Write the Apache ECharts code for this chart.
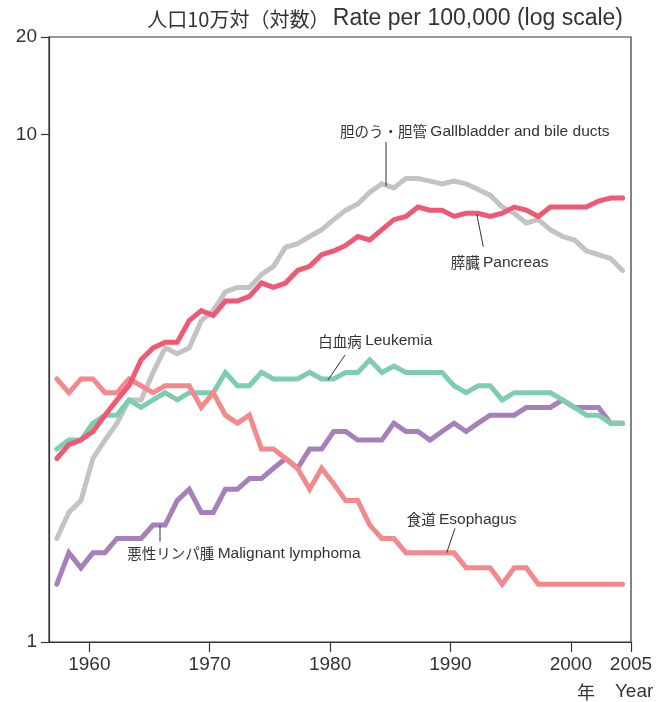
<!DOCTYPE html>
<html><head><meta charset="utf-8">
<script src="https://cdn.jsdelivr.net/npm/echarts@6/dist/echarts.min.js"></script>
<style>html,body{margin:0;padding:0;background:#fff}#c{width:668px;height:702px}</style>
</head><body><div id="c"></div>
<script>
const years = [1957,1958,1959,1960,1961,1962,1963,1964,1965,1966,
  1967,1968,1969,1970,1971,1972,1973,1974,1975,1976,
  1977,1978,1979,1980,1981,1982,1983,1984,1985,1986,
  1987,1988,1989,1990,1991,1992,1993,1994,1995,1996,
  1997,1998,1999,2000,2001,2002,2003,2004];
const gallbladder = [1.6,1.8,1.9,2.3,2.5,2.7,3.0,3.0,3.4,3.8,
  3.7,3.8,4.3,4.5,4.9,5.0,5.0,5.3,5.5,6.0,
  6.1,6.3,6.5,6.8,7.1,7.3,7.7,8.0,7.85,8.2,
  8.2,8.1,8.0,8.1,8.0,7.8,7.6,7.2,7.0,6.7,
  6.8,6.5,6.3,6.2,5.9,5.8,5.7,5.4];
const pancreas = [2.3,2.45,2.5,2.6,2.8,3.0,3.2,3.6,3.8,3.9,
  3.9,4.3,4.5,4.4,4.7,4.7,4.8,5.1,5.0,5.1,
  5.4,5.5,5.8,5.9,6.05,6.3,6.2,6.5,6.8,6.9,
  7.2,7.1,7.1,6.9,7.0,7.0,6.9,7.0,7.2,7.1,
  6.9,7.2,7.2,7.2,7.2,7.4,7.5,7.5];
const leukemia = [2.4,2.5,2.5,2.7,2.8,2.8,3.0,2.9,3.0,3.1,
  3.0,3.1,3.1,3.1,3.4,3.2,3.2,3.4,3.3,3.3,
  3.3,3.4,3.3,3.3,3.4,3.4,3.6,3.4,3.5,3.4,
  3.4,3.4,3.4,3.2,3.1,3.2,3.2,3.0,3.1,3.1,
  3.1,3.1,3.0,2.9,2.8,2.8,2.7,2.7];
const lymphoma = [1.3,1.5,1.4,1.5,1.5,1.6,1.6,1.6,1.7,1.7,
  1.9,2.0,1.8,1.8,2.0,2.0,2.1,2.1,2.2,2.3,
  2.2,2.4,2.4,2.6,2.6,2.5,2.5,2.5,2.7,2.6,
  2.6,2.5,2.6,2.7,2.6,2.7,2.8,2.8,2.8,2.9,
  2.9,2.9,3.0,2.9,2.9,2.9,2.7,2.7];
const esophagus = [3.3,3.1,3.3,3.3,3.1,3.1,3.3,3.2,3.1,3.2,
  3.2,3.2,2.9,3.1,2.8,2.7,2.8,2.4,2.4,2.3,
  2.2,2.0,2.2,2.05,1.9,1.9,1.7,1.6,1.6,1.5,
  1.5,1.5,1.5,1.5,1.4,1.4,1.4,1.3,1.4,1.4,
  1.3,1.3,1.3,1.3,1.3,1.3,1.3,1.3];
const xTicks = [1960,1970,1980,1990,2000,2005];
const yTickLabels = ['1','10','20'];
const seriesNames = ['胆のう・胆管 Gallbladder and bile ducts','膵臓 Pancreas','白血病 Leukemia','悪性リンパ腫 Malignant lymphoma','食道 Esophagus'];
// in the original each annual point sits slightly after its year tick
const YEAR_POINT_OFFSET = 0.3;

const LAT = "'Liberation Sans', Arial, sans-serif";
const CJK = "'Noto Sans CJK JP', sans-serif";
const TXT = '#333';

function pairs(arr){ return years.map((y,i)=>[y + YEAR_POINT_OFFSET, arr[i]]); }
function line(name, arr, color, z){
  return {type:'line', name, data:pairs(arr), showSymbol:false, symbol:'none', z,
    lineStyle:{color, width:5, cap:'round', join:'miter'}, emphasis:{disabled:true}, silent:true};
}
function label(x,y,jp,en,align){
  return {type:'text', x, y, z:100, style:{text:'{j|'+jp+'} {e|'+en+'}', fill:TXT,
    align:align||'left', textAlign:align||'left', verticalAlign:'middle', textVerticalAlign:'middle',
    rich:{j:{fontSize:14.5,fontFamily:CJK,fill:TXT}, e:{fontSize:15.5,fontFamily:LAT,fill:TXT}}}};
}
function leader(x1,y1,x2,y2){
  return {type:'line', z:100, shape:{x1,y1,x2,y2}, style:{stroke:'#333', lineWidth:1}};
}

const chart = echarts.init(document.getElementById('c'), null, {renderer:'canvas'});
chart.setOption({
  animation:false,
  backgroundColor:'#fff',
  grid:{left:49, right:37, top:37, bottom:60, show:true, borderColor:'#333', borderWidth:1.2, backgroundColor:'transparent'},
  xAxis:{type:'value', min:1956.65, max:2005,
    axisLine:{show:true, lineStyle:{color:'#333', width:1.2}},
    axisTick:{show:true, length:10, customValues:xTicks, lineStyle:{color:'#333', width:1.2}},
    axisLabel:{customValues:xTicks, fontSize:19, fontFamily:LAT, color:TXT, margin:13, formatter:v=>String(Math.round(v))},
    splitLine:{show:false}},
  yAxis:{type:'log', logBase:10, min:1, max:15.58,
    axisLine:{show:true, lineStyle:{color:'#333', width:1.2}},
    axisTick:{show:true, length:8, lineStyle:{color:'#333', width:1.2}},
    axisLabel:{fontSize:19, fontFamily:LAT, color:TXT, margin:12, showMaxLabel:true, showMinLabel:true,
      formatter:v=> v<1.5 ? yTickLabels[0] : (v<11 ? yTickLabels[1] : yTickLabels[2])},
    splitLine:{show:false}, minorTick:{show:false}},
  series:[
    line(seriesNames[0], gallbladder, '#c3c3c6', 2),
    line(seriesNames[3], lymphoma, '#a77fbb', 3),
    line(seriesNames[2], leukemia, '#7ecdb1', 4),
    line(seriesNames[4], esophagus, '#f3898d', 5),
    line(seriesNames[1], pancreas, '#ee5a73', 6)
  ],
  graphic:[
    {type:'text', x:623, y:19, z:100, style:{text:'{j|人口10万対（対数）} {e|Rate per 100,000 (log scale)}', fill:TXT,
      align:'right', textAlign:'right', verticalAlign:'middle', textVerticalAlign:'middle',
      rich:{j:{fontSize:20,fontFamily:CJK,fill:TXT}, e:{fontSize:23,fontFamily:LAT,fill:TXT}}}},
    {type:'text', x:595, y:692, z:100, style:{text:'年', fill:TXT, font:"18px 'Noto Sans CJK JP'", align:'right', textAlign:'right', verticalAlign:'middle', textVerticalAlign:'middle'}},
    {type:'text', x:653.3, y:692, z:100, style:{text:'Year', fill:TXT, font:"19px 'Liberation Sans'", align:'right', textAlign:'right', verticalAlign:'middle', textVerticalAlign:'middle'}},
    label(340, 131.7, '胆のう・胆管', 'Gallbladder and bile ducts'),
    leader(386,142,386,186),
    label(450.7, 262.7, '膵臓', 'Pancreas'),
    leader(476.7,214,483.3,246.7),
    label(318.3, 341.2, '白血病', 'Leukemia'),
    leader(345,355,328,380),
    label(127.3, 553.3, '悪性リンパ腫', 'Malignant lymphoma'),
    leader(160,525.7,160,541.7),
    label(406.7, 519.3, '食道', 'Esophagus'),
    leader(455,528.3,446.7,552.7)
  ]
});
</script></body></html>
